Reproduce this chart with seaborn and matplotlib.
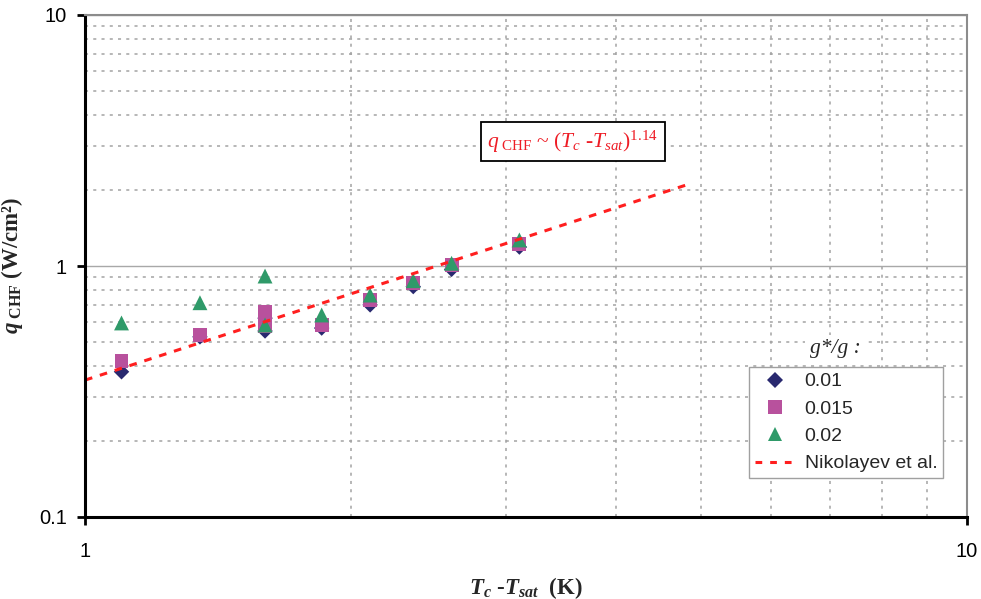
import matplotlib
matplotlib.use("Agg")
import matplotlib.pyplot as plt
from matplotlib.lines import Line2D
from matplotlib.ticker import LogLocator, NullFormatter
import seaborn as sns
import pandas as pd

# ---------------- data ----------------
x_001 = [1.10, 1.35, 1.60, 1.60, 1.855, 2.105, 2.356, 2.604, 3.108]
y_001 = [0.379, 0.522, 0.620, 0.551, 0.566, 0.700, 0.828, 0.970, 1.190]

x_0015 = [1.10, 1.35, 1.60, 1.60, 1.855, 2.105, 2.356, 2.604, 3.108]
y_0015 = [0.420, 0.531, 0.658, 0.575, 0.582, 0.732, 0.858, 1.010, 1.224]

x_002 = [1.10, 1.35, 1.60, 1.60, 1.855, 2.105, 2.356, 2.604, 3.108]
y_002 = [0.593, 0.714, 0.912, 0.582, 0.638, 0.766, 0.874, 1.025, 1.270]

x_nik = [1.0, 4.88]
y_nik = [0.351, 2.14]

series_labels = ["0.01", "0.015", "0.02"]
line_label = "Nikolayev et al."
xtick_vals = [1, 10]
xtick_labels = ["1", "10"]
ytick_vals = [0.1, 1, 10]
ytick_labels = ["0.1", "1", "10"]

# ---------------- style ----------------
sns.set_style("white")
plt.rcParams["font.family"] = ["Liberation Sans", "DejaVu Sans"]
plt.rcParams["mathtext.fontset"] = "custom"
plt.rcParams["mathtext.rm"] = "Liberation Serif"
plt.rcParams["mathtext.it"] = "Liberation Serif:italic"
plt.rcParams["mathtext.bf"] = "Liberation Serif:italic:bold"
plt.rcParams["mathtext.sf"] = "Liberation Serif:bold"

c_dia = "#29296f"
c_sq = "#b8519d"
c_tri = "#2f9a69"
c_red = "#ff1f1f"

fig = plt.figure(figsize=(9.81, 5.99), dpi=100)
ax = fig.add_axes([85 / 981, 1 - 517 / 599, 882 / 981, 502 / 599])
ax.set_xscale("log")
ax.set_yscale("log")

df1 = pd.DataFrame({"x": x_001, "y": y_001})
df2 = pd.DataFrame({"x": x_0015, "y": y_0015})
df3 = pd.DataFrame({"x": x_002, "y": y_002})
dfl = pd.DataFrame({"x": x_nik, "y": y_nik})

sns.scatterplot(data=df1, x="x", y="y", ax=ax, marker="D", s=62, color=c_dia,
                edgecolor="none", linewidth=0, zorder=3)
sns.scatterplot(data=df2, x="x", y="y", ax=ax, marker="s", s=100, color=c_sq,
                edgecolor="none", linewidth=0, zorder=4)
sns.scatterplot(data=df3, x="x", y="y", ax=ax, marker="^", s=115, color=c_tri,
                edgecolor="none", linewidth=0, zorder=5)
sns.lineplot(data=dfl, x="x", y="y", ax=ax, color=c_red, lw=2.2,
             estimator=None, sort=False, zorder=6)
ax.lines[-1].set_linestyle((0, (2.5, 2.6)))

ax.set_xlim(1, 10)
ax.set_ylim(0.1, 10)

ax.set_xticks(xtick_vals)
ax.set_xticklabels(xtick_labels)
ax.set_yticks(ytick_vals)
ax.set_yticklabels(ytick_labels)
ax.xaxis.set_minor_locator(LogLocator(base=10, subs=range(2, 10)))
ax.yaxis.set_minor_locator(LogLocator(base=10, subs=range(2, 10)))
ax.xaxis.set_minor_formatter(NullFormatter())
ax.yaxis.set_minor_formatter(NullFormatter())
ax.tick_params(which="major", axis="both", direction="out", length=6, width=2,
               color="black", labelsize=14.5, labelcolor="black")
ax.tick_params(which="major", axis="y", pad=7, left=True)
ax.tick_params(which="major", axis="x", pad=12, bottom=True)
ax.tick_params(which="minor", length=0)

ax.grid(False)
ax.grid(which="minor", axis="both", color="#a3a3a3", linestyle=(0, (2.0, 3.4)), lw=1.1)
ax.grid(which="major", axis="y", color="#a8a8a8", linestyle="-", lw=1.0)
ax.set_axisbelow(True)

for side in ["left", "bottom"]:
    ax.spines[side].set_color("black")
    ax.spines[side].set_linewidth(2.2)
for side in ["top", "right"]:
    ax.spines[side].set_color("#8c8c8c")
    ax.spines[side].set_linewidth(1.5)
for s in ax.spines.values():
    s.set_zorder(10)

ax.set_xlabel(r"$\mathbf{T}_{\mathbf{c}}$ -$\mathbf{T}_{\mathbf{sat}}$  (K)",
              fontsize=16.5, fontweight="bold", family="Liberation Serif", labelpad=10)
ax.set_ylabel(r"$\mathbf{q}_{\ \mathsf{CHF}}$ (W/cm²)",
              fontsize=16.5, fontweight="bold", family="Liberation Serif", labelpad=10)

ax.text(0.553, 0.748, r"$q_{\ \mathrm{CHF}}$ ~ $(T_c$ -$T_{sat})^{1.14}$",
        transform=ax.transAxes, ha="center", va="center", fontsize=15.5,
        color="#ee1c25", family="Liberation Serif",
        bbox=dict(boxstyle="square,pad=0.3", facecolor="white", edgecolor="black", lw=1.3),
        zorder=12)

handles = [
    Line2D([], [], ls="none", marker="D", markersize=7.8, color=c_dia, markeredgewidth=0),
    Line2D([], [], ls="none", marker="s", markersize=10, color=c_sq, markeredgewidth=0),
    Line2D([], [], ls="none", marker="^", markersize=10.5, color=c_tri, markeredgewidth=0),
    Line2D([], [], color=c_red, lw=2.2, ls=(0, (2.2, 2.6))),
]
leg = ax.legend(handles, series_labels + [line_label], loc="upper left",
                bbox_to_anchor=(0.753, 0.299), frameon=True, fancybox=False,
                framealpha=1, edgecolor="#a0a0a0", facecolor="white",
                fontsize=14, handlelength=2.1, handletextpad=0.45,
                labelspacing=0.5, borderpad=0.3, borderaxespad=0)
leg.get_frame().set_linewidth(1.0)
leg.set_zorder(11)

fig.text(835 / 981, 1 - 349 / 599, "g*/g :", ha="center", va="center",
         fontsize=15.5, fontstyle="italic", family="Liberation Serif",
         bbox=dict(boxstyle="square,pad=0.2", facecolor="white", edgecolor="none"),
         zorder=12)

fig.savefig("out.png", dpi=100)
